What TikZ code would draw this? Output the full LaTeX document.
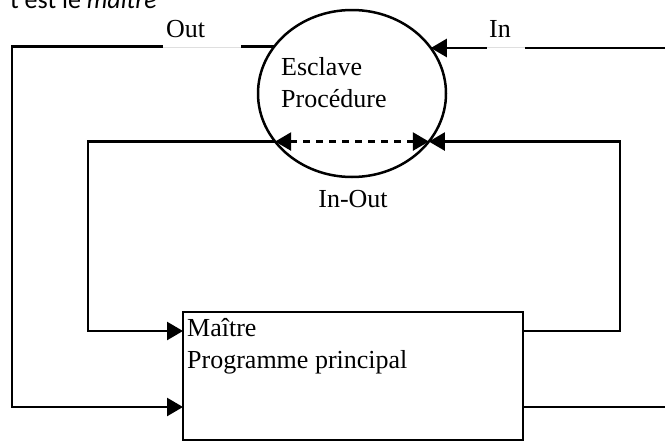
\documentclass[tikz,border=0pt]{standalone}
\usepackage{fontspec}
\setmainfont{Liberation Serif}
\newfontfamily\notefont{Carlito}
\usetikzlibrary{arrows.meta,shapes.geometric}
\begin{document}
\begin{tikzpicture}[x=1pt,y=-1pt,
  wire/.style={line width=2.5pt},
  tip/.style={-{Triangle[length=16pt,width=18pt]}},
  lbl/.style={font=\fontsize{26}{31.5}\selectfont, inner sep=0pt},
  gapbox/.style={fill=white, inner sep=0pt, minimum height=34pt, anchor=south west},
  hair/.style={gray!25, line width=0.8pt}]
\useasboundingbox (0,0) rectangle (665,442);

% caption line running off the top edge
\node[font=\notefont\fontsize{26}{31}\selectfont, anchor=base east, inner sep=0pt] (note) at (157,8) {t est le \textit{maître}};

% the two blocks
\node[draw, ellipse, wire, minimum width=188pt, minimum height=167pt, inner sep=0pt, outer sep=0pt] (esc) at (352,93.5) {};
\node[draw, rectangle, wire, minimum width=340pt, minimum height=128pt, inner sep=0pt, outer sep=0pt] (mai) at (353,376) {};

% multi-line nodes: base = baseline of the last line
\node[lbl, align=left, anchor=base west] (esctxt) at (281,107) {Esclave\\Procédure};
\node[lbl, align=left, anchor=base west] (maitxt) at (187,368) {Maître\\Programme principal};

% routing columns and rows
\coordinate (outL) at (12,0);
\coordinate (inL) at (88,0);
\coordinate (inR) at (620,0);
\coordinate (edgeR) at (668,0);
\coordinate (hiRow) at (0,331);
\coordinate (loRow) at (0,407);

% Out: slave -> master
\draw[wire, tip] (esc.149.2) -| (outL |- loRow) -- (mai.west |- loRow);
% In: from the right edge into the slave
\draw[wire, tip] (edgeR |- esc.30.8) -- (esc.30.8);
% master output leaving to the right
\draw[wire] (mai.east |- loRow) -- (edgeR |- loRow);
% In-Out loop
\draw[wire, tip] (esc.212.4) -| (inL |- hiRow) -- (mai.west |- hiRow);
\draw[wire, tip] (mai.east |- hiRow) -| (inR |- esc.-32.4) -- (esc.-32.4);
\draw[wire, dash pattern=on 7pt off 6pt, {Triangle[length=16pt,width=18pt]}-{Triangle[length=16pt,width=18pt]}] (esc.212.4) -- (esc.-32.4);

% labels with their white frames
\node[gapbox, minimum width=78pt] (outgap) at (163,48.8) {};
\draw[hair] ([yshift=1.2pt]outgap.south west) -- ([yshift=1.2pt]outgap.south east);
\node[gapbox, minimum width=38pt] (ingap) at (487,48.8) {};
\draw[hair] ([yshift=1.2pt]ingap.south west) -- ([yshift=1.2pt]ingap.south east);

\node[lbl, anchor=base west] (outtxt) at (166,37) {Out};
\node[lbl, anchor=base west] (intxt) at (489,37) {In};
\node[lbl, anchor=base] (iotxt) at (353,207) {In-Out};
\end{tikzpicture}
\end{document}
